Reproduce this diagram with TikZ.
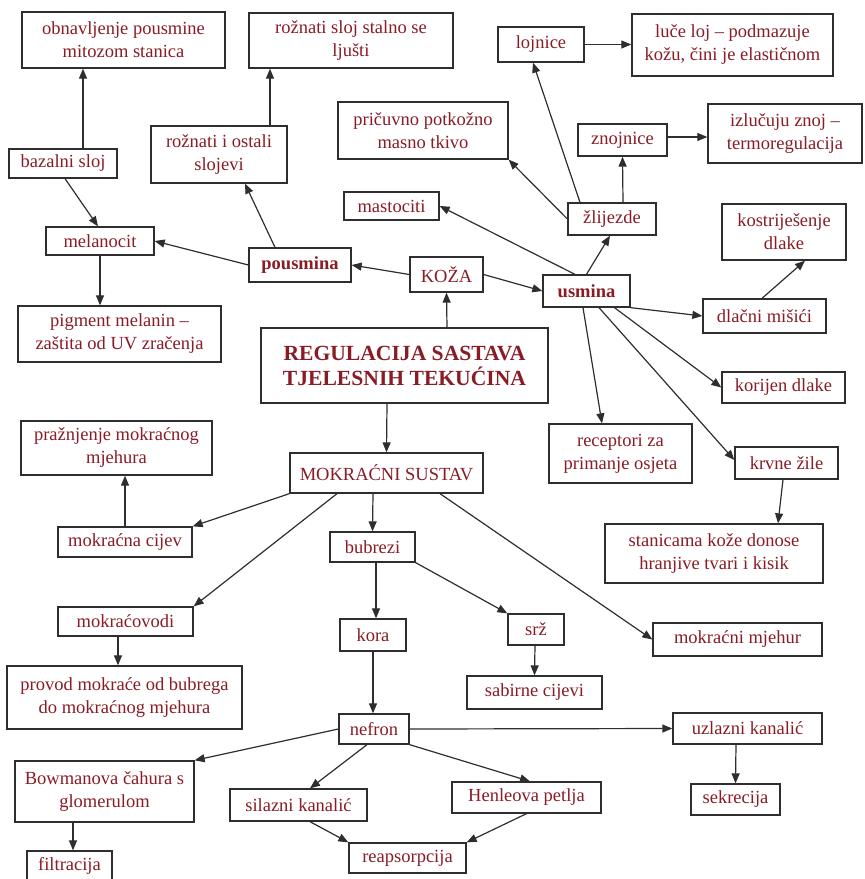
\documentclass[tikz,border=0pt]{standalone}
\usepackage{fontspec}
\setmainfont{Liberation Serif}
\usetikzlibrary{arrows.meta}
\definecolor{labelred}{HTML}{8A1C26}
\definecolor{frame}{HTML}{2E2E2E}
\begin{document}
\begin{tikzpicture}[x=1pt,y=-1pt,
  box/.style={draw=frame, line width=1.3pt, fill=white, text=labelred,
    inner sep=0pt, align=center, font=\fontsize{18.5}{23}\selectfont},
  hbox/.style={box, font=\fontsize{18.5}{23}\selectfont\bfseries},
  titlebox/.style={box, font=\fontsize{21.6}{25}\selectfont\bfseries},
  arr/.style={draw=frame, line width=1.2pt, -{Triangle[length=10pt,width=8pt]}}
]
\useasboundingbox (0,0) rectangle (865,879);

% ---- skin (KOŽA) branch ----
\node[box, minimum width=203, minimum height=56] (obn) at (123.5,40) {obnavljenje pousmine\\mitozom stanica};
\node[box, minimum width=204, minimum height=55] (rsl) at (351,40.5) {rožnati sloj stalno se\\ljušti};
\node[box, minimum width=170, minimum height=57] (pric) at (423,130.5) {pričuvno potkožno\\masno tkivo};
\node[box, minimum width=136, minimum height=57] (rio) at (219,154.5) {rožnati i ostali\\slojevi};
\node[box, minimum width=108, minimum height=29] (baz) at (63,163.5) {bazalni sloj};
\node[box, minimum width=95, minimum height=28] (mast) at (391.5,206) {mastociti};
\node[box, minimum width=108, minimum height=28] (mel) at (100,241) {melanocit};
\node[hbox, minimum width=102, minimum height=34] (pous) at (300,265) {pousmina};
\node[box, minimum width=73, minimum height=35] (koza) at (446.5,274.5) {KOŽA};
\node[hbox, minimum width=87, minimum height=32] (usm) at (586.5,291) {usmina};
\node[titlebox, minimum width=287, minimum height=75] (reg) at (404.5,365.5) {REGULACIJA SASTAVA\\TJELESNIH TEKUĆINA};
\node[box, minimum width=203, minimum height=56] (pig) at (119.5,334) {pigment melanin –\\zaštita od UV zračenja};
\node[box, minimum width=143, minimum height=59] (rec) at (620.5,453.5) {receptori za\\primanje osjeta};
\node[box, minimum width=86, minimum height=35] (loj) at (541,44.5) {lojnice};
\node[box, minimum width=201, minimum height=62] (luc) at (732.5,45) {luče loj – podmazuje\\kožu, čini je elastičnom};
\node[box, minimum width=89, minimum height=32] (znoj) at (622.5,140) {znojnice};
\node[box, minimum width=154, minimum height=59] (izl) at (785,133.5) {izlučuju znoj –\\termoregulacija};
\node[box, minimum width=88, minimum height=32] (zli) at (612,219) {žlijezde};
\node[box, minimum width=124, minimum height=56] (kos) at (784,232) {kostriješenje\\dlake};
\node[box, minimum width=123, minimum height=34] (dla) at (764.5,316) {dlačni mišići};
\node[box, minimum width=123, minimum height=31] (kor) at (783.5,387.5) {korijen dlake};
\node[box, minimum width=103, minimum height=32] (krv) at (786.5,463) {krvne žile};
\node[box, minimum width=218, minimum height=59] (sta) at (714,553.5) {stanicama kože donose\\hranjive tvari i kisik};

% ---- urinary system branch ----
\node[box, minimum width=193, minimum height=40] (mok) at (386.5,473) {MOKRAĆNI SUSTAV};
\node[box, minimum width=191, minimum height=54] (praz) at (116.5,448) {pražnjenje mokraćnog\\mjehura};
\node[box, minimum width=134, minimum height=30] (mcij) at (125,542) {mokraćna cijev};
\node[box, minimum width=85, minimum height=30] (bub) at (372.5,547) {bubrezi};
\node[box, minimum width=135, minimum height=29] (mkv) at (125.5,621.5) {mokraćovodi};
\node[box, minimum width=235, minimum height=63] (prov) at (124.5,697.5) {provod mokraće od bubrega\\do mokraćnog mjehura};
\node[box, minimum width=66, minimum height=32] (kora) at (373,635) {kora};
\node[box, minimum width=56, minimum height=31] (srz) at (536,629.5) {srž};
\node[box, minimum width=169, minimum height=33] (mjeh) at (737.5,639.5) {mokraćni mjehur};
\node[box, minimum width=135, minimum height=33] (sab) at (534.5,692.5) {sabirne cijevi};
\node[box, minimum width=70, minimum height=30] (nef) at (374,729) {nefron};
\node[box, minimum width=149, minimum height=31] (uzl) at (747.5,728.5) {uzlazni kanalić};
\node[box, minimum width=179, minimum height=61] (bow) at (104.5,791.5) {Bowmanova čahura s\\glomerulom};
\node[box, minimum width=137, minimum height=32] (sil) at (298.5,805) {silazni kanalić};
\node[box, minimum width=149, minimum height=31] (hen) at (526.5,797.5) {Henleova petlja};
\node[box, minimum width=89, minimum height=31] (sek) at (735.5,799.5) {sekrecija};
\node[box, minimum width=117, minimum height=30] (reap) at (407.5,858) {reapsorpcija};
\node[box, minimum width=85, minimum height=30] (fil) at (69.5,866) {filtracija};

% ---- connectors: skin ----
\coordinate (znojR) at ([yshift=3pt]znoj.east);
\draw[arr] ([xshift=20pt]baz.north) -- ([xshift=-40.5pt]obn.south);
\draw[arr] ([xshift=2pt]baz.south) -- ([xshift=-2pt]mel.north);
\draw[arr] ([xshift=51pt]rio.north) -- ([xshift=-81pt]rsl.south);
\draw[arr] ([xshift=-25pt]pous.north) -- ([xshift=26pt]rio.south);
\draw[arr] (pous.west) -- (mel.east);
\draw[arr] (mel.south) -- ([xshift=-19.5pt]pig.north);
\draw[arr] (koza.west) -- (pous.east);
\draw[arr] (koza.east) -- (usm.west);
\draw[arr] ([xshift=42.5pt]reg.north) -- (koza.south);
\draw[arr] ([xshift=-11.5pt]usm.north) -- (mast.east);
\draw[arr] (usm.north) -- ([xshift=-2pt]zli.south);
\draw[arr] ([xshift=-32pt]zli.north) -- ([xshift=-8pt]loj.south);
\draw[arr] (zli.west) -- (pric.south east);
\draw[arr] ([xshift=11pt]zli.north) -- (znoj.south);
\draw[arr] (loj.east) -- (luc.west |- loj.east);
\draw[arr] (znojR) -- (izl.west |- znojR);
\draw[arr] (usm.south east) -- (dla.west);
\draw[arr] ([xshift=-2.5pt]dla.north) -- ([xshift=21pt]kos.south);
\draw[arr] ([xshift=-3.5pt]usm.south) -- ([xshift=-18.5pt]rec.north);
\draw[arr] ([xshift=28pt]usm.south) -- (kor.west);
\draw[arr] ([xshift=12.5pt]usm.south) -- ([yshift=3pt]krv.west);
\draw[arr] ([xshift=-3.5pt]krv.south) -- ([xshift=64pt]sta.north);

% ---- connectors: urinary system ----
\draw[arr] ([xshift=-17.5pt]reg.south) -- (mok.north);
\draw[arr] (mok.south west) -- (mcij.north east);
\draw[arr] ([xshift=-49.5pt]mok.south) -- (mkv.north east);
\draw[arr] ([xshift=-13.5pt]mok.south) -- (bub.north);
\draw[arr] ([xshift=53.5pt]mok.south) -- (mjeh.west);
\draw[arr] (mcij.north) -- ([xshift=8.5pt]praz.south);
\draw[arr] ([xshift=-7.5pt]mkv.south) -- ([xshift=-6.5pt]prov.north);
\draw[arr] ([xshift=3.5pt]bub.south) -- ([xshift=3pt]kora.north);
\draw[arr] (bub.south east) -- (srz.north west);
\draw[arr] ([xshift=-1pt]srz.south) -- (sab.north);
\draw[arr] (kora.south) -- ([xshift=-1pt]nef.north);
\draw[arr] (nef.east) -- (uzl.west);
\draw[arr] (nef.west) -- (bow.north east);
\draw[arr] ([xshift=-7pt]nef.south) -- ([xshift=11.5pt]sil.north);
\draw[arr] (nef.south east) -- ([xshift=3.5pt]hen.north);
\draw[arr] ([xshift=11.5pt]sil.south) -- (reap.north west);
\draw[arr] (hen.south) -- (reap.north east);
\draw[arr] ([xshift=-31.5pt]bow.south) -- ([xshift=3.5pt]fil.north);
\draw[arr] ([xshift=-11.5pt]uzl.south) -- (sek.north);
\end{tikzpicture}
\end{document}
